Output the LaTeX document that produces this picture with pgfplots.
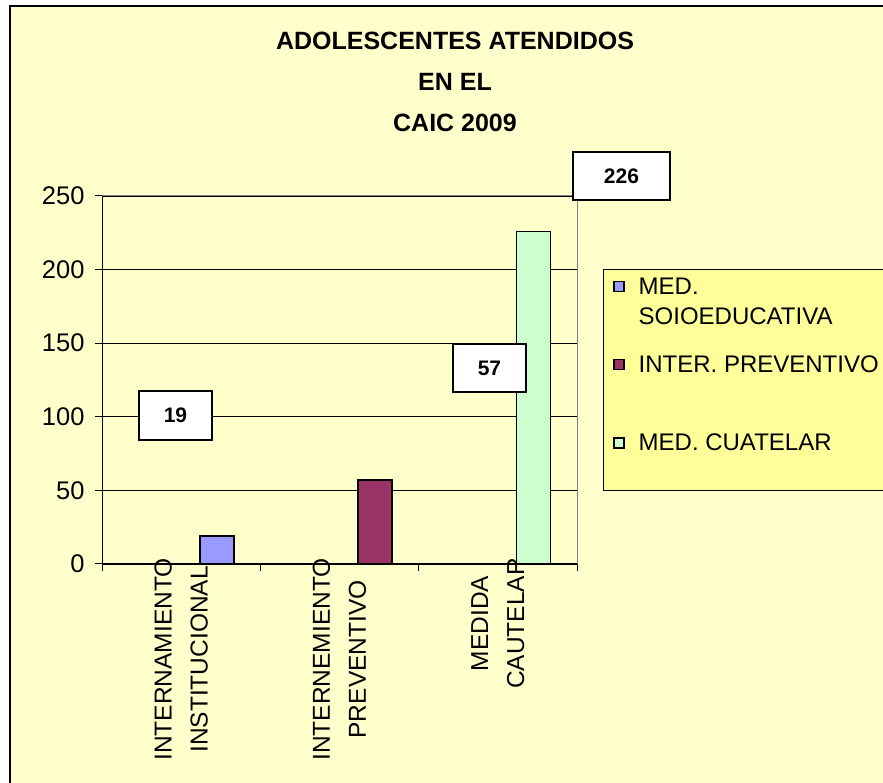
\documentclass[border=0pt]{standalone}
\usepackage{fontspec}
\setmainfont{Liberation Sans}
\usepackage{pgfplots}
\pgfplotsset{compat=1.18}
\definecolor{bgy}{HTML}{FFFFCC}
\definecolor{legy}{HTML}{FFFF99}
\definecolor{sA}{HTML}{9999FF}
\definecolor{sB}{HTML}{993366}
\definecolor{sC}{HTML}{CCFFCC}
\begin{document}
\begin{tikzpicture}
\path[use as bounding box] (0,0) rectangle (883pt,783pt);
\fill[bgy] (10pt,-20pt) rectangle (900pt,777pt);
\draw[black, line width=1.2pt] (10pt,-20pt) -- (10pt,777pt) -- (900pt,777pt);
\begin{axis}[
  at={(102pt,219pt)}, anchor=south west,
  scale only axis, width=475pt, height=368pt,
  xmin=-0.5, xmax=2.5, ymin=0, ymax=250,
  clip=false,
  axis x line*=bottom, axis y line*=left,
  axis line style={black, line width=1pt},
  tick align=outside,
  major tick length=7pt, minor tick length=7pt,
  tick style={black, line width=1pt},
  xtick={0,1,2},
  xticklabels={{INTERNAMIENTO\\INSTITUCIONAL},{INTERNEMIENTO\\PREVENTIVO},{MEDIDA\\CAUTELAR}},
  major x tick style={draw=none},
  minor xtick={-0.5,0.5,1.5,2.5},
  ytick={0,50,100,150,200,250},
  ymajorgrids, grid style={black, line width=0.8pt},
  /pgf/number format/assume math mode=true,
  yticklabel style={font=\fontsize{25.5}{30}\selectfont, xshift=-7pt},
  xticklabel style={font=\fontsize{24.5}{36}\selectfont, rotate=90, anchor=east, align=center, inner sep=0pt},
  xticklabel shift=-13pt,
  legend image code/.code={\path[draw=none,fill=none] (0pt,-20pt) rectangle (10pt,20pt); \draw[#1, line width=1.2pt] (0pt,10pt) rectangle (10pt,20pt);},
  legend cell align=left,
  legend style={at={(rel axis cs:1.0547,0.8016)}, anchor=north west, fill=legy, draw=black, line width=1pt,
    font=\fontsize{24}{30}\selectfont, cells={align=left, anchor=west},
    inner xsep=10pt, inner ysep=6pt, /tikz/row sep=26pt, /tikz/column sep=0pt,
    /tikz/every odd column/.append style={column sep=12pt}},
]
\addplot[ybar, bar width=0.215, bar shift=0pt, fill=sA, draw=black, line width=1.5pt] coordinates {(0.225,19)};
\addlegendentry{MED.\\SOIOEDUCATIVA}
\addplot[ybar, bar width=0.215, bar shift=0pt, fill=sB, draw=black, line width=1.5pt] coordinates {(1.224,57)};
\addlegendentry{INTER. PREVENTIVO\\\mbox{}}
\addplot[ybar, bar width=0.215, bar shift=0pt, fill=sC, draw=black, line width=1.5pt] coordinates {(2.225,226)};
\addlegendentry{MED. CUATELAR\\\mbox{}}
\draw[gray, line width=1pt] (rel axis cs:0,1) -- (rel axis cs:1,1) -- (rel axis cs:1,0);
\node[draw=black, line width=1.2pt, fill=white, minimum width=73pt, minimum height=49pt, font=\bfseries\fontsize{21}{24}\selectfont] at (axis cs:-0.036,100.9) {19};
\node[draw=black, line width=1.2pt, fill=white, minimum width=73pt, minimum height=48pt, font=\bfseries\fontsize{21}{24}\selectfont] at (axis cs:1.947,133.2) {57};
\node[draw=black, line width=1.2pt, fill=white, minimum width=97pt, minimum height=48pt, font=\bfseries\fontsize{21}{24}\selectfont] at (axis cs:2.781,263.6) {226};
\end{axis}
\node[align=center, font=\bfseries\fontsize{25}{41}\selectfont] at (455pt,701pt) {ADOLESCENTES ATENDIDOS\\EN EL\\CAIC 2009};
\end{tikzpicture}
\end{document}
